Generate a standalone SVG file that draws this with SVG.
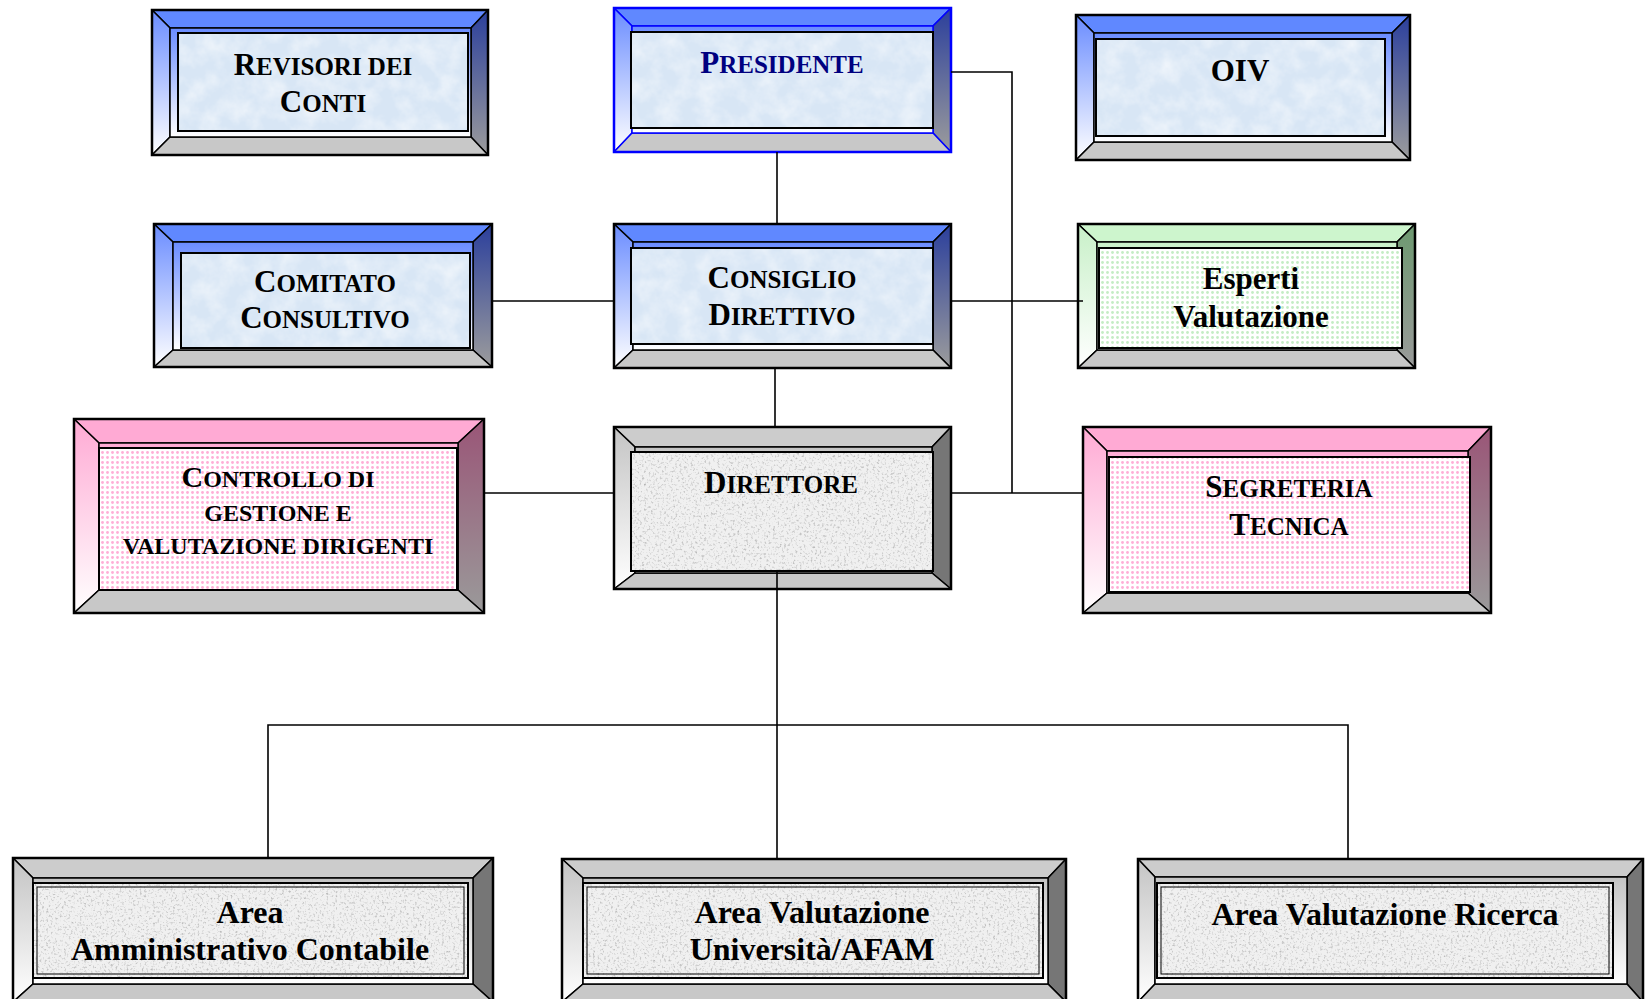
<svg xmlns="http://www.w3.org/2000/svg" width="1645" height="999" viewBox="0 0 1645 999">
<style>
.node polygon,.node .in{stroke:#000;stroke-width:1.5;stroke-linejoin:round}
.node .bb{fill:#c8c8c8}
.ct{fill:none;stroke:#000;stroke-width:2}
.ct2{fill:none;stroke:#000;stroke-width:1}
.ot{fill:none;stroke:#000;stroke-width:2.5}
.blue .bt{fill:#6088ff}.blue .bl,.blue .in{fill:url(#gBL)}.blue .br{fill:url(#gBR)}
.blue .tx{fill:#d8e6f5;filter:url(#fMarble)}
.pink .bt{fill:#ffaad4}.pink .bl,.pink .in{fill:url(#gPL)}.pink .br{fill:url(#gPR)}
.pink .tx{fill:url(#pPink)}
.green .bt{fill:#cdf5cd}.green .bl,.green .in{fill:url(#gGL)}.green .br{fill:url(#gGR)}
.green .tx{fill:url(#pGreen)}
.gray .bt{fill:#cccccc}.gray .bl,.gray .in{fill:url(#gKL)}.gray .br{fill:#767676}
.gray .tx{fill:#f0f0f0;filter:url(#fGranite)}
#presidente polygon,#presidente .in,#presidente .ot{stroke:#0000ff}
.t{font-family:"Liberation Serif","Times New Roman",serif;font-weight:bold;font-size:31px;text-anchor:middle;fill:#000}
.s{font-size:25px}
.c1{font-size:30px}.c2{font-size:24px}
.a{font-size:32px}
#connectors{fill:none;stroke:#000;stroke-width:1.6}
</style>
<defs>
<linearGradient id="gBL" x1="0" y1="0" x2="0" y2="1"><stop offset="0" stop-color="#6a8cff"/><stop offset="1" stop-color="#ffffff"/></linearGradient>
<linearGradient id="gBR" x1="0" y1="0" x2="0" y2="1"><stop offset="0" stop-color="#2b3f9c"/><stop offset="1" stop-color="#9c9c9c"/></linearGradient>
<linearGradient id="gPL" x1="0" y1="0" x2="0" y2="1"><stop offset="0" stop-color="#ffaad4"/><stop offset="1" stop-color="#ffffff"/></linearGradient>
<linearGradient id="gPR" x1="0" y1="0" x2="0" y2="1"><stop offset="0" stop-color="#9a5577"/><stop offset="1" stop-color="#9a9a9a"/></linearGradient>
<linearGradient id="gGL" x1="0" y1="0" x2="0" y2="1"><stop offset="0" stop-color="#c8f0c8"/><stop offset="1" stop-color="#ffffff"/></linearGradient>
<linearGradient id="gGR" x1="0" y1="0" x2="0" y2="1"><stop offset="0" stop-color="#6d9970"/><stop offset="1" stop-color="#9a9a9a"/></linearGradient>
<linearGradient id="gKL" x1="0" y1="0" x2="0" y2="1"><stop offset="0" stop-color="#c4c4c4"/><stop offset="1" stop-color="#ffffff"/></linearGradient>
<pattern id="pPink" width="5" height="5" patternUnits="userSpaceOnUse"><rect width="5" height="5" fill="#fff"/><circle cx="2.5" cy="2.5" r="1.4" fill="#ffaed6"/></pattern>
<pattern id="pGreen" width="5" height="5" patternUnits="userSpaceOnUse"><rect width="5" height="5" fill="#fff"/><circle cx="2.5" cy="2.5" r="1.4" fill="#c4ecc4"/></pattern>
<filter id="fMarble" x="0" y="0" width="1" height="1" color-interpolation-filters="sRGB">
<feTurbulence type="fractalNoise" baseFrequency="0.05" numOctaves="4" seed="7"/>
<feColorMatrix type="matrix" values="0 0 0 0 1  0 0 0 0 1  0 0 0 0 1  1.0 0 0 0 -0.35"/>
<feComposite in2="SourceGraphic" operator="atop"/>
</filter>
<filter id="fGranite" x="0" y="0" width="1" height="1" color-interpolation-filters="sRGB">
<feTurbulence type="fractalNoise" baseFrequency="0.45" numOctaves="2" seed="3"/>
<feColorMatrix type="matrix" values="0 0 0 0 0.6  0 0 0 0 0.6  0 0 0 0 0.6  1.8 0 0 0 -0.95"/>
<feComposite in2="SourceGraphic" operator="atop"/>
</filter>
</defs>

<g id="revisori" class="node blue">
<polygon class="bt" points="152,10 488,10 471,28 170,28"/>
<polygon class="bl" points="152,10 170,28 170,137 152,155"/>
<polygon class="br" points="488,10 488,155 471,137 471,28"/>
<polygon class="bb" points="152,155 170,137 471,137 488,155"/>
<rect class="in" x="170" y="28" width="301" height="109"/>
<rect class="tx" x="178" y="33" width="290" height="98"/>
<rect class="ct" x="178" y="33" width="290" height="98"/>
<rect class="ot" x="152" y="10" width="336" height="145"/>
<text class="t" x="323" y="75">R<tspan class="s">EVISORI DEI</tspan></text>
<text class="t" x="323" y="112">C<tspan class="s">ONTI</tspan></text>
</g>

<g id="presidente" class="node blue">
<polygon class="bt" points="614,8 951,8 933,26 632,26"/>
<polygon class="bl" points="614,8 632,26 632,133 614,152"/>
<polygon class="br" points="951,8 951,152 933,133 933,26"/>
<polygon class="bb" points="614,152 632,133 933,133 951,152"/>
<rect class="in" x="632" y="26" width="301" height="107"/>
<rect class="tx" x="631" y="32" width="302" height="96"/>
<rect class="ct" x="631" y="32" width="302" height="96"/>
<rect class="ot" x="614" y="8" width="337" height="144"/>
<text class="t" x="782" y="73" style="fill:#000080">P<tspan class="s">RESIDENTE</tspan></text>
</g>

<g id="oiv" class="node blue">
<polygon class="bt" points="1076,15 1410,15 1392,33 1094,33"/>
<polygon class="bl" points="1076,15 1094,33 1094,142 1076,160"/>
<polygon class="br" points="1410,15 1410,160 1392,142 1392,33"/>
<polygon class="bb" points="1076,160 1094,142 1392,142 1410,160"/>
<rect class="in" x="1094" y="33" width="298" height="109"/>
<rect class="tx" x="1096" y="39" width="289" height="97"/>
<rect class="ct" x="1096" y="39" width="289" height="97"/>
<rect class="ot" x="1076" y="15" width="334" height="145"/>
<text class="t" x="1240" y="81">OIV</text>
</g>

<g id="comitato" class="node blue">
<polygon class="bt" points="154,224 492,224 473,242 173,242"/>
<polygon class="bl" points="154,224 173,242 173,350 154,367"/>
<polygon class="br" points="492,224 492,367 473,350 473,242"/>
<polygon class="bb" points="154,367 173,350 473,350 492,367"/>
<rect class="in" x="173" y="242" width="300" height="108"/>
<rect class="tx" x="181" y="253" width="289" height="95"/>
<rect class="ct" x="181" y="253" width="289" height="95"/>
<rect class="ot" x="154" y="224" width="338" height="143"/>
<text class="t" x="325" y="292">C<tspan class="s">OMITATO</tspan></text>
<text class="t" x="325" y="328">C<tspan class="s">ONSULTIVO</tspan></text>
</g>

<g id="consiglio" class="node blue">
<polygon class="bt" points="614,224 951,224 933,242 633,242"/>
<polygon class="bl" points="614,224 633,242 633,350 614,368"/>
<polygon class="br" points="951,224 951,368 933,350 933,242"/>
<polygon class="bb" points="614,368 633,350 933,350 951,368"/>
<rect class="in" x="633" y="242" width="300" height="108"/>
<rect class="tx" x="631" y="248" width="302" height="96"/>
<rect class="ct" x="631" y="248" width="302" height="96"/>
<rect class="ot" x="614" y="224" width="337" height="144"/>
<text class="t" x="782" y="288">C<tspan class="s">ONSIGLIO</tspan></text>
<text class="t" x="782" y="325">D<tspan class="s">IRETTIVO</tspan></text>
</g>

<g id="esperti" class="node green">
<polygon class="bt" points="1078,224 1415,224 1397,242 1097,242"/>
<polygon class="bl" points="1078,224 1097,242 1097,350 1078,368"/>
<polygon class="br" points="1415,224 1415,368 1397,350 1397,242"/>
<polygon class="bb" points="1078,368 1097,350 1397,350 1415,368"/>
<rect class="in" x="1097" y="242" width="300" height="108"/>
<rect class="tx" x="1099" y="248" width="303" height="100"/>
<rect class="ct" x="1099" y="248" width="303" height="100"/>
<rect class="ot" x="1078" y="224" width="337" height="144"/>
<text class="t" x="1251" y="289">Esperti</text>
<text class="t" x="1251" y="327">Valutazione</text>
</g>

<g id="controllo" class="node pink">
<polygon class="bt" points="74,419 484,419 458,443 99,443"/>
<polygon class="bl" points="74,419 99,443 99,590 74,613"/>
<polygon class="br" points="484,419 484,613 458,590 458,443"/>
<polygon class="bb" points="74,613 99,590 458,590 484,613"/>
<rect class="in" x="99" y="443" width="359" height="147"/>
<rect class="tx" x="99" y="448" width="358" height="142"/>
<rect class="ct" x="99" y="448" width="358" height="142"/>
<rect class="ot" x="74" y="419" width="410" height="194"/>
<text class="t c1" x="278" y="487">C<tspan class="c2">ONTROLLO DI</tspan></text>
<text class="t c2" x="278" y="521">GESTIONE E</text>
<text class="t c2" x="278" y="554">VALUTAZIONE DIRIGENTI</text>
</g>

<g id="direttore" class="node gray">
<polygon class="bt" points="614,427 951,427 932,447 635,447"/>
<polygon class="bl" points="614,427 635,447 635,573 614,589"/>
<polygon class="br" points="951,427 951,589 932,573 932,447"/>
<polygon class="bb" points="614,589 635,573 932,573 951,589"/>
<rect class="in" x="635" y="447" width="297" height="126"/>
<rect class="tx" x="631" y="452" width="302" height="119"/>
<rect class="ct" x="631" y="452" width="302" height="119"/>
<rect class="ot" x="614" y="427" width="337" height="162"/>
<text class="t" x="781" y="493">D<tspan class="s">IRETTORE</tspan></text>
</g>

<g id="segreteria" class="node pink">
<polygon class="bt" points="1083,427 1491,427 1468,451 1107,451"/>
<polygon class="bl" points="1083,427 1107,451 1107,593 1083,613"/>
<polygon class="br" points="1491,427 1491,613 1468,593 1468,451"/>
<polygon class="bb" points="1083,613 1107,593 1468,593 1491,613"/>
<rect class="in" x="1107" y="451" width="361" height="142"/>
<rect class="tx" x="1109" y="457" width="361" height="135"/>
<rect class="ct" x="1109" y="457" width="361" height="135"/>
<rect class="ot" x="1083" y="427" width="408" height="186"/>
<text class="t" x="1289" y="497">S<tspan class="s">EGRETERIA</tspan></text>
<text class="t" x="1289" y="535">T<tspan class="s">ECNICA</tspan></text>
</g>

<g id="area-amministrativo" class="node gray">
<polygon class="bt" points="13,858 493,858 473,878 33,878"/>
<polygon class="bl" points="13,858 33,878 33,984 13,1002"/>
<polygon class="br" points="493,858 493,1002 473,984 473,878"/>
<polygon class="bb" points="13,1002 33,984 473,984 493,1002"/>
<rect class="in" x="33" y="878" width="440" height="106"/>
<rect class="tx" x="33" y="883" width="435" height="95"/>
<rect class="ct" x="33" y="883" width="435" height="95"/>
<rect class="ct2" x="37" y="887" width="427" height="87"/>
<rect class="ot" x="13" y="858" width="480" height="144"/>
<text class="t a" x="250" y="923">Area</text>
<text class="t a" x="250" y="960">Amministrativo Contabile</text>
</g>

<g id="area-universita" class="node gray">
<polygon class="bt" points="562,859 1066,859 1048,878 583,878"/>
<polygon class="bl" points="562,859 583,878 583,984 562,1002"/>
<polygon class="br" points="1066,859 1066,1002 1048,984 1048,878"/>
<polygon class="bb" points="562,1002 583,984 1048,984 1066,1002"/>
<rect class="in" x="583" y="878" width="465" height="106"/>
<rect class="tx" x="583" y="883" width="460" height="95"/>
<rect class="ct" x="583" y="883" width="460" height="95"/>
<rect class="ct2" x="587" y="887" width="452" height="87"/>
<rect class="ot" x="562" y="859" width="504" height="143"/>
<text class="t a" x="812" y="923">Area Valutazione</text>
<text class="t a" x="812" y="960">Università/AFAM</text>
</g>

<g id="area-ricerca" class="node gray">
<polygon class="bt" points="1138,859 1643,859 1627,877 1155,877"/>
<polygon class="bl" points="1138,859 1155,877 1155,984 1138,1002"/>
<polygon class="br" points="1643,859 1643,1002 1627,984 1627,877"/>
<polygon class="bb" points="1138,1002 1155,984 1627,984 1643,1002"/>
<rect class="in" x="1155" y="877" width="472" height="107"/>
<rect class="tx" x="1157" y="883" width="456" height="95"/>
<rect class="ct" x="1157" y="883" width="456" height="95"/>
<rect class="ct2" x="1161" y="887" width="448" height="87"/>
<rect class="ot" x="1138" y="859" width="505" height="143"/>
<text class="t a" x="1385" y="925">Area Valutazione Ricerca</text>
</g>

<g id="connectors">
<path d="M777,152 V224"/>
<path d="M775,368 V427"/>
<path d="M492,301 H614"/>
<path d="M951,301 H1083"/>
<path d="M951,72 H1012 V493"/>
<path d="M484,493 H614"/>
<path d="M951,493 H1083"/>
<path d="M777,571 V859"/>
<path d="M268,858 V725 H1348 V859"/>
</g>
</svg>
